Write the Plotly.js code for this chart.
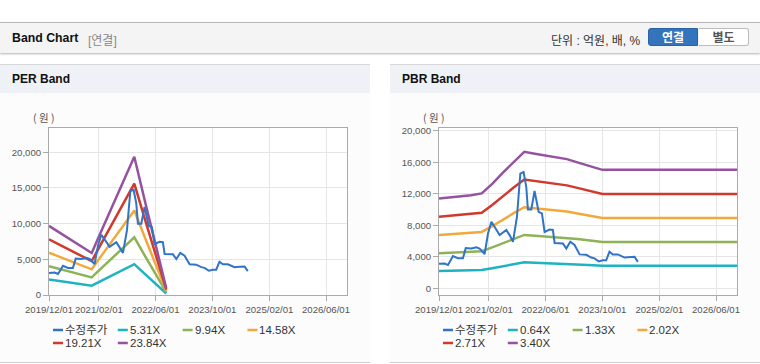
<!DOCTYPE html>
<html><head><meta charset="utf-8">
<script src="https://cdn.plot.ly/plotly-3.0.1.min.js"></script>
<style>
body{margin:0;width:760px;height:364px;background:#fff;font-family:"Liberation Sans","Noto Sans CJK KR",sans-serif;position:relative;overflow:hidden}
.top{position:absolute;left:0;top:22px;width:760px;height:30px;background:#f4f4f4;border-top:1px solid #b8b8b8;box-shadow:0 1px 2px rgba(0,0,0,0.3)}
.top .t{position:absolute;left:12px;top:8px;font-size:12.3px;font-weight:bold;color:#111}
.top .s{position:absolute;left:88px;top:8px;font-size:12px;color:#888}
.top .u{position:absolute;left:551px;top:8px;font-size:12px;color:#333}
.btn{position:absolute;top:5px;height:18px;width:50px;font-size:12px;font-weight:bold;text-align:center;line-height:18px;box-sizing:border-box}
.b1{left:648px;background:#3474bd;color:#fff;border:1px solid #2a62a3;border-radius:3px 0 0 3px}
.b2{left:699px;background:#fff;color:#555;border:1px solid #bbb;border-left:none;border-radius:0 3px 3px 0}
.panel{position:absolute;top:64px;width:370px;height:297px;background:#fcfcfc;border-top:1px solid #d8d8d8;border-bottom:1px solid #d0d0d0}
.ph{position:absolute;left:0;top:0;width:370px;height:28px;background:#eef2f7}
.ph span{position:absolute;left:12px;top:7px;font-size:12px;font-weight:bold;color:#111}
.chart{position:absolute;left:0;top:28px;width:370px;height:268px}
</style></head>
<body>
<div class="top"><span class="t">Band Chart</span><span class="s">[연결]</span><span class="u">단위 : 억원, 배, %</span>
<div class="btn b1">연결</div><div class="btn b2">별도</div></div>
<div class="panel" style="left:0"><div class="ph"><span>PER Band</span></div><div class="chart" id="per"></div></div>
<div class="panel" style="left:390px"><div class="ph"><span>PBR Band</span></div><div class="chart" id="pbr"></div></div>
<script>
// ---- data ----
const priceName = '수정주가';
const priceDates = ['2019-12-01','2020-01-19','2020-02-16','2020-03-30','2020-05-12','2020-06-23','2020-07-17','2020-09-03','2020-10-16','2020-11-13','2020-12-26','2021-01-24','2021-02-22','2021-03-22','2021-05-04','2021-06-30','2021-07-28','2021-08-26','2021-09-29','2021-10-28','2021-11-25','2021-12-18','2022-01-01','2022-01-30','2022-02-27','2022-04-03','2022-05-01','2022-05-24','2022-07-06','2022-08-03','2022-08-18','2022-10-28','2022-11-26','2022-12-30','2023-02-05','2023-03-20','2023-05-16','2023-06-28','2023-07-26','2023-09-01','2023-10-05','2023-11-03','2023-12-01','2023-12-30','2024-02-11','2024-04-08','2024-05-21','2024-07-03','2024-07-31'];
const priceValues = [3100,3150,2950,4100,3800,3800,5100,5050,5200,5050,4350,6950,8450,7800,6750,7400,6750,5900,9050,14550,14750,12850,10000,10000,12350,9700,9500,7150,7450,7400,5750,5700,5050,5900,5500,4300,4250,3900,3800,3400,3550,3550,4650,4300,4300,3900,3950,4000,3350];

const perDates = ['2019-12-01','2020-03-01','2020-06-01','2020-09-01','2020-12-01','2021-03-01','2021-06-01','2021-09-01','2021-12-01','2022-03-01','2022-06-01','2022-09-01'];
const perNames = ['5.31X','9.94X','14.58X','19.21X','23.84X'];
const per531  = [2160,1940,1730,1520,1310,2060,2810,3570,4320,2950,1580,210];
const per994  = [4040,3640,3240,2850,2460,3860,5270,6680,8080,5520,2960,400];
const per1458 = [5920,5340,4750,4180,3600,5660,7730,9800,11850,8090,4340,580];
const per1921 = [7800,7030,6260,5510,4740,7450,10180,12910,15620,10660,5720,770];
const per2384 = [9680,8730,7770,6840,5890,9250,12640,16020,19380,13230,7100,950];

const pbrDates = ['2019-12-01','2020-03-01','2020-06-01','2020-09-01','2020-12-01','2021-03-01','2021-06-01','2021-09-01','2021-12-01','2022-03-01','2022-06-01','2022-09-01','2022-12-01','2023-03-01','2023-06-01','2023-10-01','2024-06-01','2025-06-01','2026-11-28'];
const pbrNames = ['0.64X','1.33X','2.02X','2.71X','3.40X'];
const pbr064 = [2200,2220,2240,2260,2320,2550,2810,3060,3300,3250,3210,3170,3120,3050,2970,2870,2870,2870,2870];
const pbr133 = [4460,4510,4560,4620,4710,5190,5750,6280,6770,6680,6580,6500,6410,6250,6090,5880,5880,5880,5880];
const pbr202 = [6770,6850,6930,7010,7150,7880,8730,9530,10280,10140,10000,9880,9740,9490,9250,8930,8930,8930,8930];
const pbr271 = [9080,9190,9300,9400,9590,10570,11710,12790,13790,13600,13410,13250,13060,12740,12410,11980,11980,11980,11980];
const pbr340 = [11390,11530,11660,11800,12040,13260,14690,16050,17310,17070,16830,16630,16390,15980,15570,15030,15030,15030,15030];

const xTickVals = ['2019-12-01','2021-02-01','2022-06-01','2023-10-01','2025-02-01','2026-06-01'];
const xTickText = ['2019/12/01','2021/02/01','2022/06/01','2023/10/01','2025/02/01','2026/06/01'];
const perYTicks = [0,5000,10000,15000,20000];
const pbrYTicks = [0,4000,8000,12000,16000,20000];

// ---- styles ----
const colors = ['#2f74c8','#1db3c2','#8db356','#f2a93b','#cf3a2c','#95539f'];
const W=370,H=268,ML=49,MR=23,MT=35,MB=66;
const PW=W-ML-MR, PH=H-MT-MB;
const tickFont={family:'"Liberation Sans",sans-serif',size:9.6,color:'#555'};

function build(id, bandDates, bands, names, yTicks, yRange){
  const traces=[{x:priceDates,y:priceValues,type:'scatter',mode:'lines',name:priceName,line:{color:colors[0],width:2}}];
  bands.forEach((b,i)=>traces.push({x:bandDates,y:b,type:'scatter',mode:'lines',name:names[i],line:{color:colors[i+1],width:2.5}}));
  const ordered=traces.slice(1).concat([traces[0]]);
  const allNames=[priceName].concat(names);
  const shapes=[],ann=[];
  const px=v=>(v-ML)/PW, py=v=>(H-MB-v)/PH;
  allNames.forEach((n,i)=>{
    const row=Math.floor(i/4),col=i%4;
    const sx=53+col*64.8, sy=237+row*13;
    shapes.push({type:'line',xref:'paper',yref:'paper',x0:px(sx),x1:px(sx+10),y0:py(sy),y1:py(sy),line:{color:colors[i],width:2.5}});
    ann.push({xref:'paper',yref:'paper',x:px(sx+11),y:py(sy),xanchor:'left',yanchor:'middle',showarrow:false,borderpad:0,text:n,font:{family:'"Liberation Sans","Noto Sans CJK KR",sans-serif',size:11.5,color:'#333'}});
  });
  ann.push({xref:'paper',yref:'paper',x:px(43),y:py(25),xanchor:'center',yanchor:'middle',showarrow:false,text:'( 원 )',font:{family:'"Noto Sans CJK KR",sans-serif',size:10.5,color:'#555'}});
  const layout={
    width:W,height:H,margin:{l:ML,r:MR,t:MT,b:MB},
    paper_bgcolor:'rgba(0,0,0,0)',plot_bgcolor:'#ffffff',showlegend:false,
    xaxis:{type:'date',range:['2019-12-01','2026-11-28'],tickmode:'array',tickvals:xTickVals,ticktext:xTickText,tickangle:0,
      showgrid:true,gridcolor:'#e6e6e6',showline:true,linecolor:'#aaaaaa',mirror:true,ticks:'outside',ticklen:5,tickcolor:'#aaaaaa',
      tickfont:tickFont,zeroline:false,fixedrange:true},
    yaxis:{range:yRange,tickmode:'array',tickvals:yTicks,tickformat:',',showgrid:true,gridcolor:'#e6e6e6',showline:true,linecolor:'#aaaaaa',mirror:true,
      ticks:'outside',ticklen:5,tickcolor:'#aaaaaa',tickfont:tickFont,zeroline:false,fixedrange:true},
    shapes:shapes,annotations:ann
  };
  Plotly.newPlot(id,ordered,layout,{staticPlot:true,displayModeBar:false});
}
build('per',perDates,[per531,per994,per1458,per1921,per2384],perNames,perYTicks,[0,23405]);
build('pbr',pbrDates,[pbr064,pbr133,pbr202,pbr271,pbr340],pbrNames,pbrYTicks,[-850,20340]);
</script>
</body></html>
